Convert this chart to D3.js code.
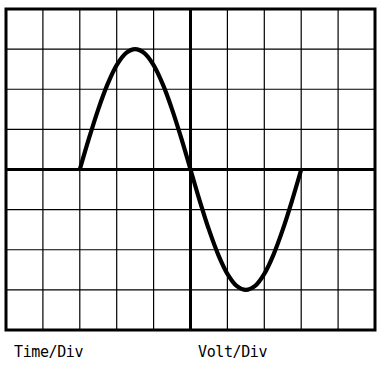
<!DOCTYPE html>
<html><head><meta charset="utf-8">
<script src="https://cdn.jsdelivr.net/npm/d3@7"></script>
<style>html,body{margin:0;padding:0;background:#fff;}svg{display:block;}</style>
</head><body>
<svg id="c" width="385" height="374"></svg>
<script>
// Grid divisions
const timeDivs = [0,1,2,3,4,5,6,7,8,9,10];
const voltDivs = [-4,-3,-2,-1,0,1,2,3,4];
// Trace samples (time in div, volts in div)
const traceTime = [2,2.25,2.5,2.75,3,3.25,3.5,3.75,4,4.25,4.5,4.75,5,5.25,5.5,5.75,6,6.25,6.5,6.75,7,7.25,7.5,7.75,8];
const traceVolt = [0,0.78,1.5,2.12,2.6,2.9,3,2.9,2.6,2.12,1.5,0.78,0,-0.78,-1.5,-2.12,-2.6,-2.9,-3,-2.9,-2.6,-2.12,-1.5,-0.78,0];
const labels = ["Time/Div","Volt/Div"];

const svg = d3.select("#c");
const x = d3.scaleLinear().domain([0,10]).range([6,375]);
const y = d3.scaleLinear().domain([-4,4]).range([330,9]);

const g = svg.append("g");
g.selectAll("line.v").data(timeDivs.slice(1,-1)).enter().append("line")
  .attr("x1",d=>x(d)).attr("x2",d=>x(d)).attr("y1",y(4)).attr("y2",y(-4))
  .attr("stroke","#000").attr("stroke-width",d=>d===5?3:1.2);
g.selectAll("line.h").data(voltDivs.slice(1,-1)).enter().append("line")
  .attr("y1",d=>y(d)).attr("y2",d=>y(d)).attr("x1",x(0)).attr("x2",x(10))
  .attr("stroke","#000").attr("stroke-width",d=>d===0?3:1.2);
g.append("rect").attr("x",x(0)).attr("y",y(4)).attr("width",x(10)-x(0)).attr("height",y(-4)-y(4))
  .attr("fill","none").attr("stroke","#000").attr("stroke-width",3);

const pts = traceTime.map((t,i)=>[t,traceVolt[i]]);
svg.append("path").datum(pts)
  .attr("d", d3.line().x(d=>x(d[0])).y(d=>y(d[1])).curve(d3.curveCatmullRom))
  .attr("fill","none").attr("stroke","#000").attr("stroke-width",4.2).attr("stroke-linejoin","round");

svg.selectAll("text.lbl").data(labels).enter().append("text")
  .attr("x",(d,i)=>i===0?14:198).attr("y",357)
  .attr("font-family","DejaVu Sans Mono, monospace").attr("font-size",15)
  .attr("letter-spacing",-0.4).attr("fill","#000").text(d=>d);
</script>
</body></html>
